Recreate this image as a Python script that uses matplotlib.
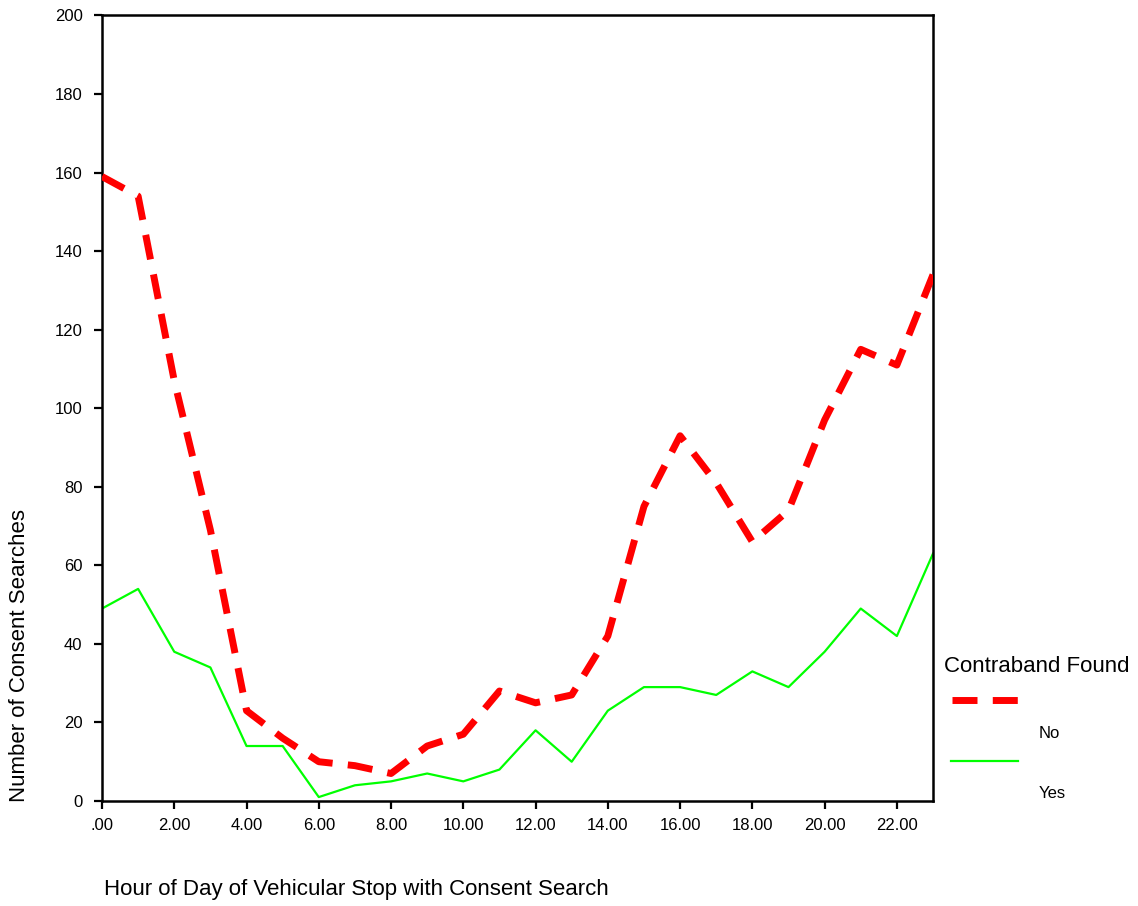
import matplotlib
matplotlib.use("Agg")
import matplotlib.pyplot as plt
from matplotlib.lines import Line2D

plt.rcParams['font.family'] = ['Liberation Sans', 'DejaVu Sans']

hours = list(range(24))
no_contraband = [159, 154, 107, 69, 23, 16, 10, 9, 7, 14, 17, 28,
                 25, 27, 42, 75, 93, 81, 66, 74, 97, 115, 111, 134]
yes_contraband = [49, 54, 38, 34, 14, 14, 1, 4, 5, 7, 5, 8,
                  18, 10, 23, 29, 29, 27, 33, 29, 38, 49, 42, 63]
x_ticks = [0, 2, 4, 6, 8, 10, 12, 14, 16, 18, 20, 22]
x_tick_labels = ['.00', '2.00', '4.00', '6.00', '8.00', '10.00', '12.00',
                 '14.00', '16.00', '18.00', '20.00', '22.00']
y_ticks = [0, 20, 40, 60, 80, 100, 120, 140, 160, 180, 200]
series_labels = ['No', 'Yes']
legend_title = 'Contraband Found'
x_label = 'Hour of Day of Vehicular Stop with Consent Search'
y_label = 'Number of Consent Searches'

W, H = 1138, 906
fig = plt.figure(figsize=(W / 100, H / 100), dpi=100)
ax = fig.add_axes([102 / W, 1 - 801 / H, (933 - 102) / W, (801 - 15.5) / H])

red = '#FF0000'
green = '#00FF00'
dash = (0, (3.6, 2.2))

ax.plot(hours, no_contraband, color=red, lw=5, linestyle=dash,
        dash_capstyle='butt', solid_joinstyle='miter', zorder=3)
ax.plot(hours, yes_contraband, color=green, lw=1.6, zorder=2)

ax.set_xlim(0, 23)
ax.set_ylim(0, 200)
ax.set_xticks(x_ticks)
ax.set_xticklabels(x_tick_labels)
ax.set_yticks(y_ticks)
ax.set_yticklabels([str(v) for v in y_ticks])

for s in ax.spines.values():
    s.set_linewidth(1.8)
    s.set_color('black')
ax.tick_params(axis='both', direction='out', length=5.5, width=1.6,
               labelsize=12, colors='black')
ax.tick_params(axis='x', pad=7)
ax.tick_params(axis='y', pad=8.5)

fig.text(20 / W, 1 - 802 / H, y_label, rotation=90, ha='center', va='bottom',
         fontsize=16)
fig.text(104 / W, 1 - 890 / H, x_label, ha='left', va='center', fontsize=16)

# legend (SPSS style: label below the sample line)
fig.text(944 / W, 1 - 667 / H, legend_title, ha='left', va='center', fontsize=16)
fig.add_artist(Line2D([952 / W, 1018 / W], [1 - 700 / H, 1 - 700 / H],
                      transform=fig.transFigure, color=red, lw=5,
                      linestyle=dash, dash_capstyle='butt'))
fig.text(1039 / W, 1 - 734 / H, series_labels[0], ha='left', va='center', fontsize=12)
fig.add_artist(Line2D([951 / W, 1018 / W], [1 - 760.5 / H, 1 - 760.5 / H],
                      transform=fig.transFigure, color=green, lw=1.6))
fig.text(1039 / W, 1 - 794 / H, series_labels[1], ha='left', va='center', fontsize=12)

fig.savefig('out.png', dpi=100, facecolor='white')
